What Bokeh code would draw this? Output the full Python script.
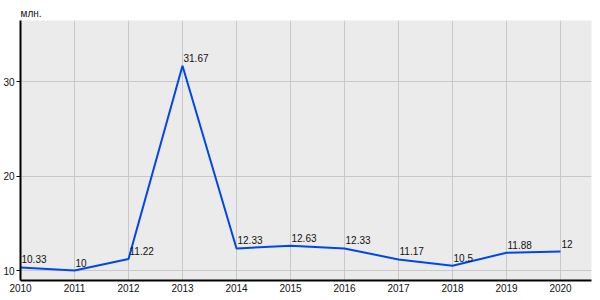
from bokeh.plotting import figure
from bokeh.models import ColumnDataSource, Range1d, FixedTicker, Title
from bokeh.core.properties import value
from bokeh.embed import file_html
from bokeh.resources import INLINE

years = [2010, 2011, 2012, 2013, 2014, 2015, 2016, 2017, 2018, 2019, 2020]
values = [10.33, 10, 11.22, 31.67, 12.33, 12.63, 12.33, 11.17, 10.5, 11.88, 12]
labels = ["10.33", "10", "11.22", "31.67", "12.33", "12.63", "12.33", "11.17", "10.5", "11.88", "12"]
y_ticks = [10, 20, 30]
unit_label = "млн."

FONT = "Liberation Sans"

src = ColumnDataSource(dict(x=years, y=values, t=labels))

p = figure(width=600, height=300, output_backend="svg", toolbar_location=None,
           x_range=Range1d(2010, 2020.574), y_range=Range1d(8.942, 36.455),
           min_border_left=20, min_border_right=9, min_border_top=20, min_border_bottom=20,
           background_fill_color="#ebebeb", border_fill_color="white")
p.outline_line_color = None

t = Title(text=unit_label, text_font=FONT, text_font_size="10px", text_font_style="normal",
          text_color="#111111", align="left", offset=0, standoff=4)
p.add_layout(t, "above")

p.line("x", "y", source=src, line_color="#0046ee", line_width=2)
p.text("x", "y", text="t", source=src, x_offset=1, y_offset=-8,
       text_font=value(FONT), text_font_size="10px", text_color="#111111",
       text_align="left", text_baseline="alphabetic")

p.xaxis.ticker = FixedTicker(ticks=years)
p.yaxis.ticker = FixedTicker(ticks=y_ticks)
for ax in (p.xaxis[0], p.yaxis[0]):
    ax.axis_line_color = "black"
    ax.axis_line_width = 2
    ax.minor_tick_line_color = None
    ax.major_label_text_font = FONT
    ax.major_label_text_font_size = "10px"
    ax.major_label_text_color = "#111111"
p.xaxis.major_tick_line_color = None
p.xaxis.major_tick_out = 0
p.xaxis.major_tick_in = 0
p.xaxis.major_label_text_align = "left"
p.xaxis.major_label_standoff = 3
p.yaxis.major_tick_in = 0
p.yaxis.major_tick_out = 4
p.yaxis.major_tick_line_color = "black"
p.yaxis.major_label_standoff = 2

p.xgrid.ticker = FixedTicker(ticks=years)
p.ygrid.ticker = FixedTicker(ticks=y_ticks)
p.grid.grid_line_color = "#c8c8c8"
p.grid.grid_line_width = 1

open("out.html", "w").write(file_html(p, INLINE))
